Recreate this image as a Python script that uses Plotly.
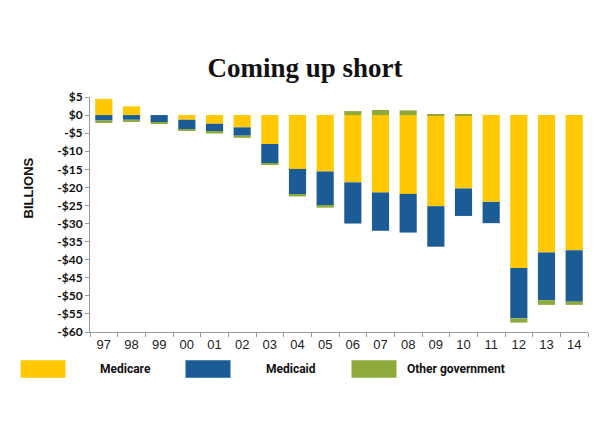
import plotly.graph_objects as go

years = ["97", "98", "99", "00", "01", "02", "03", "04", "05",
         "06", "07", "08", "09", "10", "11", "12", "13", "14"]
medicare = [4.5, 2.4, 0.0, -1.3, -2.4, -3.4, -8.0, -14.9, -15.6,
            -18.6, -21.4, -21.8, -25.2, -20.3, -24.0, -42.3, -38.0, -37.4]
medicaid = [-1.5, -1.3, -2.0, -2.7, -2.2, -2.3, -5.3, -7.2, -9.5,
            -11.4, -10.6, -10.7, -11.2, -7.6, -5.9, -13.9, -13.2, -14.2]
other_gov = [-0.7, -0.6, -0.3, -0.4, -0.5, -0.6, -0.4, -0.4, -0.5,
             1.1, 1.4, 1.3, 0.3, 0.3, 0.0, -1.2, -1.3, -0.9]

series_names = ["Medicare", "Medicaid", "Other government"]
series_colors = ["#FFC800", "#1B5C97", "#8DAA3A"]
series_values = [medicare, medicaid, other_gov]

ytick_vals = list(range(5, -65, -5))
ytick_text = [("$" if v >= 0 else "-$") + str(abs(v)) for v in ytick_vals]

W, H = 610, 430
L, R, T, B = 90, 588, 96.5, 331.7

def px(x):
    return (x - L) / (R - L)

def py(y):
    return (B - y) / (B - T)

fig = go.Figure()
for name, color, vals in zip(series_names, series_colors, series_values):
    fig.add_trace(go.Bar(x=years, y=vals, name=name, marker_color=color,
                         marker_line_width=0, showlegend=False))

fig.update_layout(
    width=W, height=H,
    margin=dict(l=L, r=W - R, t=T, b=H - B),
    barmode="relative", bargap=0.38,
    plot_bgcolor="white", paper_bgcolor="white",
    title=dict(text="<b>Coming up short</b>", x=0.5, xanchor="center",
               y=1 - 68 / H, yanchor="middle", yref="container",
               font=dict(family="Liberation Serif", size=27, color="#111111")),
)
fig.update_xaxes(type="category", showline=True, linecolor="#999999", linewidth=1,
                 ticks="outside", tickson="boundaries", ticklen=4, tickcolor="#999999",
                 tickfont=dict(family="Liberation Sans", size=13, color="#222222"),
                 showgrid=False)
fig.update_yaxes(range=[-60, 5], tickvals=ytick_vals, ticktext=ytick_text,
                 showline=True, linecolor="#999999", linewidth=1,
                 ticks="outside", ticklen=4, tickcolor="#999999",
                 tickfont=dict(family="Lato", size=12, color="#111111", weight="bold"),
                 showgrid=False, zeroline=False)

fig.add_annotation(text="<b>BILLIONS</b>", xref="paper", yref="paper",
                   x=px(28), y=py(188), textangle=-90, showarrow=False,
                   xanchor="center", yanchor="middle",
                   font=dict(family="Liberation Sans", size=13, color="#111111"))

rects = [(20.7, 65.5), (185.5, 230.5), (351.5, 396.5)]
text_x = [98, 264, 405]
for (x0, x1), tx, name, color in zip(rects, text_x, series_names, series_colors):
    fig.add_shape(type="rect", xref="paper", yref="paper",
                  x0=px(x0), x1=px(x1), y0=py(377.5), y1=py(360),
                  fillcolor=color, line_width=0)
    fig.add_annotation(text="<b>" + name + "</b>", xref="paper", yref="paper",
                       x=px(tx), y=py(369), xanchor="left", yanchor="middle",
                       showarrow=False,
                       font=dict(family="Roboto", size=12, color="#111111"))

fig.write_html("out.html")
